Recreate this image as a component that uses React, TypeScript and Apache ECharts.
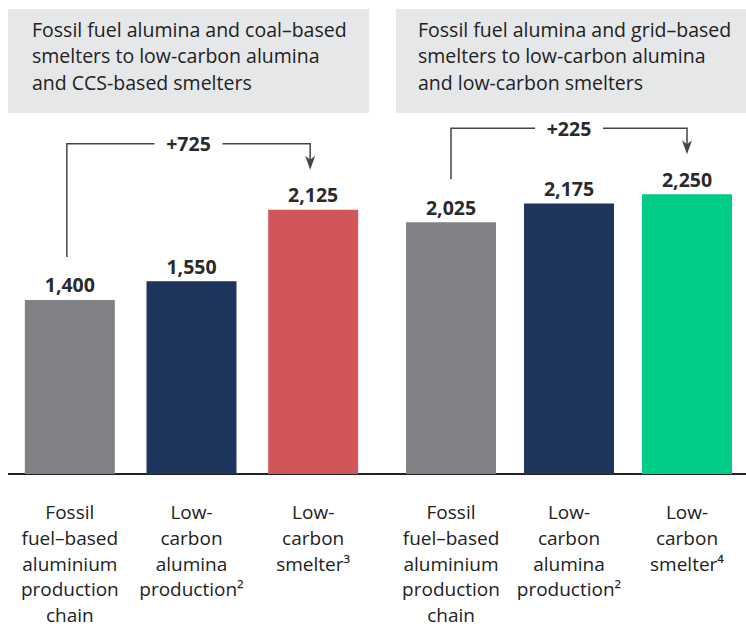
import React, { useEffect, useRef } from "react";
import * as echarts from "echarts";

const groupTitles = [
  "Fossil fuel alumina and coal–based\nsmelters to low-carbon alumina\nand CCS-based smelters",
  "Fossil fuel alumina and grid–based\nsmelters to low-carbon alumina\nand low-carbon smelters",
];
const categoriesA = [
  "Fossil\nfuel–based\naluminium\nproduction\nchain",
  "Low-\ncarbon\nalumina\nproduction²",
  "Low-\ncarbon\nsmelter³",
];
const categoriesB = [
  "Fossil\nfuel–based\naluminium\nproduction\nchain",
  "Low-\ncarbon\nalumina\nproduction²",
  "Low-\ncarbon\nsmelter⁴",
];
const valuesA = [1400, 1550, 2125];
const valuesB = [2025, 2175, 2250];
const colorsA = ["#808184", "#1e355e", "#d0565a"];
const colorsB = ["#808184", "#1e355e", "#00cc85"];
const deltas = ["+725", "+225"];

const FONT = "'Open Sans', Roboto, sans-serif";

export default function App() {
  const ref = useRef<HTMLDivElement>(null);
  useEffect(() => {
    if (!ref.current) return;
    const chart = echarts.init(ref.current, undefined, { renderer: "svg" });
    const fmt = (v: number) => v.toLocaleString("en-US");
    const mkX = (gridIndex: number, cats: string[]) => ({
      type: "category",
      gridIndex,
      data: cats,
      axisLine: { show: false },
      axisTick: { show: false },
      axisLabel: {
        interval: 0,
        margin: 25,
        fontFamily: FONT,
        fontSize: 19,
        lineHeight: 25.8,
        color: "#222",
        align: "center",
      },
    });
    const mkY = (gridIndex: number) => ({
      type: "value",
      gridIndex,
      min: 0,
      max: 3000,
      show: false,
      splitLine: { show: false },
    });
    const mkSeries = (idx: number, vals: number[], cols: string[]) => ({
      type: "bar",
      xAxisIndex: idx,
      yAxisIndex: idx,
      barWidth: 90,
      clip: false,
      data: vals.map((v, i) => ({ value: v, itemStyle: { color: cols[i] } })),
      label: {
        show: true,
        position: "top",
        distance: 5,
        formatter: (p: any) => fmt(p.value),
        fontFamily: FONT,
        fontWeight: "bold",
        fontSize: 19.5,
        color: "#2a2a2a",
      },
    });
    chart.setOption({
      animation: false,
      grid: [
        { left: 9, width: 365, top: 101, bottom: 146, containLabel: false },
        { left: 392, width: 366, top: 101, bottom: 146, containLabel: false },
      ],
      xAxis: [mkX(0, categoriesA), mkX(1, categoriesB)],
      yAxis: [mkY(0), mkY(1)],
      series: [mkSeries(0, valuesA, colorsA), mkSeries(1, valuesB, colorsB)],
    });

    const px = (g: number, i: number, v: number) =>
      chart.convertToPixel({ gridIndex: g } as any, [i, v]) as number[];

    const graphics: any[] = [];
    const boxes = [
      { x: 8, w: 361, tx: 32 },
      { x: 396, w: 350, tx: 418 },
    ];
    boxes.forEach((b, k) => {
      graphics.push({
        type: "rect",
        shape: { x: b.x, y: 9, width: b.w, height: 104 },
        style: { fill: "#e6e7e8" },
        silent: true,
      });
      graphics.push({
        type: "text",
        x: b.tx,
        y: 16,
        style: {
          text: groupTitles[k],
          fontFamily: FONT,
          fontSize: 19.5,
          lineHeight: 26.5,
          fill: "#222",
          textAlign: "left",
          textVerticalAlign: "top",
        },
      });
    });
    const base = px(0, 0, 0)[1];
    graphics.push({
      type: "line",
      shape: { x1: 8, y1: base, x2: 746, y2: base },
      style: { stroke: "#222", lineWidth: 2 },
    });
    const groups = [valuesA, valuesB];
    groups.forEach((vals, g) => {
      const off = g === 0 ? -3 : 0;
      const p0 = px(g, 0, vals[0]);
      const p2 = px(g, 2, vals[2]);
      const topMost = Math.min(...vals.map((v, i) => px(g, i, v)[1]));
      const x0 = p0[0] + off;
      const x2 = p2[0] + off;
      const yStart = p0[1] - 43;
      const yH = topMost - 66;
      const yEnd = p2[1] - 40;
      const mid = (x0 + x2) / 2;
      const gap = 34;
      const stroke = "#444";
      graphics.push({
        type: "polyline",
        shape: { points: [[x0, yStart], [x0, yH], [mid - gap, yH]] },
        style: { stroke, lineWidth: 1.5, fill: "none" },
      });
      graphics.push({
        type: "polyline",
        shape: { points: [[mid + gap, yH], [x2, yH], [x2, yEnd - 6]] },
        style: { stroke, lineWidth: 1.5, fill: "none" },
      });
      graphics.push({
        type: "polygon",
        shape: { points: [[x2 - 5, yEnd - 14], [x2, yEnd - 10], [x2 + 5, yEnd - 14], [x2, yEnd]] },
        style: { fill: stroke },
      });
      graphics.push({
        type: "text",
        x: mid,
        y: yH,
        style: {
          text: deltas[g],
          fontFamily: FONT,
          fontWeight: "bold",
          fontSize: 19.5,
          fill: "#2a2a2a",
          textAlign: "center",
          textVerticalAlign: "middle",
        },
      });
    });
    chart.setOption({ graphic: graphics });
    return () => chart.dispose();
  }, []);
  return (
    <div
      ref={ref}
      style={{ position: "absolute", left: 0, top: 0, width: 746, height: 628 }}
    />
  );
}
